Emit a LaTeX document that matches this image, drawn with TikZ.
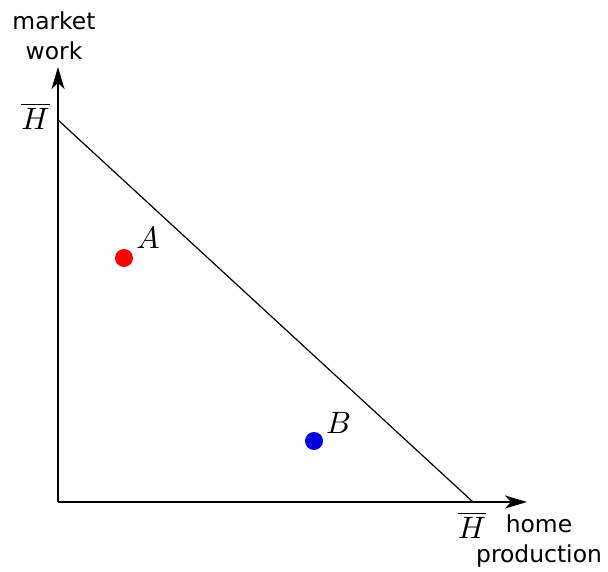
\documentclass[tikz,border=0pt]{standalone}
\usepackage{graphicx}
\usepackage{fontspec}
\newfontfamily\labelfont{DejaVu Sans}
\usetikzlibrary{arrows.meta}
\definecolor{dotred}{RGB}{255,0,0}
\definecolor{dotblue}{RGB}{0,0,225}
\newcommand{\bigmath}[1]{\scalebox{3.1}{$#1$}}
\begin{document}
\begin{tikzpicture}[x=1bp,y=-1bp,
  axis/.style={line width=1.3bp,-{Stealth[length=22bp,width=13bp,inset=6bp]}},
  budget/.style={line width=1.2bp},
  dot/.style={circle,inner sep=0pt,minimum size=18bp},
  mathlbl/.style={inner sep=0pt},
  axlbl/.style={font=\labelfont\fontsize{23.5}{30}\selectfont,align=center,inner sep=0pt}]
\useasboundingbox (0,0) rectangle (608,572);
\coordinate (O) at (58,502);
\coordinate (ytip) at (58,67);
\coordinate (xtip) at (527,502);
\coordinate (top) at (58,120);
\coordinate (right) at (473,502);
\draw[axis] (O) -- (ytip);
\draw[axis] (O) -- (xtip);
\draw[budget] (top) -- (right);
\node[dot,fill=dotred] (a) at (124,258) {};
\node[dot,fill=dotblue] (b) at (314,441) {};
\node[mathlbl] (alab) at (148,237.5) {\bigmath{A}};
\node[mathlbl] (blab) at (338.5,422.5) {\bigmath{B}};
\node[mathlbl] (h1) at (35.5,116) {\bigmath{\overline{H}}};
\node[mathlbl] (h2) at (472,525) {\bigmath{\overline{H}}};
\node[axlbl] (ml) at (54,36) {market\\work};
\node[axlbl] (hl) at (539,541) {home\\production};
\end{tikzpicture}
\end{document}
